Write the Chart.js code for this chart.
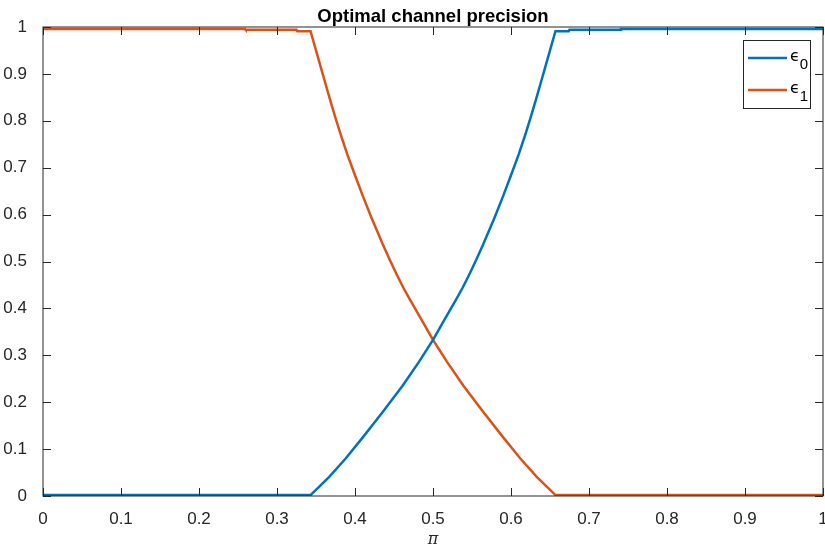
<!DOCTYPE html>
<html>
<head>
<meta charset="utf-8">
<script src="https://cdn.jsdelivr.net/npm/chart.js@4.4.0/dist/chart.umd.min.js"></script>
<style>
  body { margin: 0; background: #fff; }
  #wrap { width: 825px; height: 548px; }
</style>
</head>
<body>
<div id="wrap"><canvas id="precisionChart" width="825" height="548"></canvas></div>
<script>
// values
const eps0Pi  = [0, 0.343, 0.367, 0.388, 0.410, 0.435, 0.461, 0.482, 0.500, 0.512, 0.529, 0.538, 0.547, 0.555, 0.564, 0.579, 0.590, 0.600, 0.610, 0.619, 0.625, 0.632, 0.638, 0.644, 0.650, 0.657, 0.674, 0.675, 0.740, 0.741, 1];
const eps0Val = [0.002, 0.002, 0.041, 0.080, 0.125, 0.178, 0.235, 0.286, 0.333, 0.368, 0.417, 0.444, 0.474, 0.502, 0.535, 0.594, 0.640, 0.684, 0.729, 0.774, 0.806, 0.845, 0.880, 0.915, 0.950, 0.991, 0.991, 0.994, 0.994, 0.996, 0.996];

const eps1Pi  = [0, 0.259, 0.260, 0.325, 0.326, 0.343, 0.350, 0.356, 0.362, 0.368, 0.375, 0.381, 0.390, 0.400, 0.410, 0.421, 0.436, 0.445, 0.453, 0.462, 0.471, 0.488, 0.500, 0.518, 0.539, 0.565, 0.590, 0.612, 0.633, 0.657, 1];
const eps1Val = [0.996, 0.996, 0.994, 0.994, 0.991, 0.991, 0.950, 0.915, 0.880, 0.845, 0.806, 0.774, 0.729, 0.684, 0.640, 0.594, 0.535, 0.502, 0.474, 0.444, 0.417, 0.368, 0.333, 0.286, 0.235, 0.178, 0.125, 0.080, 0.041, 0.002, 0.002];

const seriesSymbol = ['ϵ', 'ϵ'];
const seriesSub = ['0', '1'];
const seriesColors = ['#0072BD', '#D95319'];

const chartTitle = 'Optimal channel precision';
const xTitle = 'π';

function toPoints(xs, ys) {
  return xs.map((v, i) => ({ x: v, y: ys[i] }));
}

// title over the plot box, box with inward ticks on all sides, legend top right
const matlabAxes = {
  id: 'matlabAxes',
  afterDatasetsDraw(chart) {
    const { ctx, chartArea: a, scales: { x, y } } = chart;
    ctx.save();

    ctx.fillStyle = '#000';
    ctx.font = 'bold 18.5px "Liberation Sans", Arial, sans-serif';
    ctx.textAlign = 'center';
    ctx.textBaseline = 'alphabetic';
    ctx.fillText(chartTitle, (a.left + a.right) / 2, a.top - 5.5);
    ctx.textAlign = 'left';

    ctx.strokeStyle = '#262626';
    ctx.lineWidth = 1;
    ctx.beginPath();
    x.ticks.forEach(t => {
      const px = Math.round(x.getPixelForValue(t.value)) + 0.5;
      ctx.moveTo(px, a.bottom); ctx.lineTo(px, a.bottom - 8);
      ctx.moveTo(px, a.top); ctx.lineTo(px, a.top + 8);
    });
    y.ticks.forEach(t => {
      const py = Math.round(y.getPixelForValue(t.value)) + 0.5;
      ctx.moveTo(a.left, py); ctx.lineTo(a.left + 8, py);
      ctx.moveTo(a.right, py); ctx.lineTo(a.right - 8, py);
    });
    ctx.stroke();
    ctx.strokeRect(a.left, a.top, a.right - a.left, a.bottom - a.top);

    const bx = a.right - 80, by = a.top + 13, bw = 67, bh = 68;
    ctx.fillStyle = '#fff';
    ctx.fillRect(bx, by, bw, bh);
    ctx.strokeRect(bx + 0.5, by + 0.5, bw, bh);
    chart.data.datasets.forEach((ds, i) => {
      const ly = by + 18 + i * 32;
      ctx.strokeStyle = ds.borderColor;
      ctx.lineWidth = 2.5;
      ctx.beginPath();
      ctx.moveTo(bx + 5, ly);
      ctx.lineTo(bx + 44, ly);
      ctx.stroke();
      ctx.fillStyle = '#000';
      ctx.font = '16px "DejaVu Sans", sans-serif';
      ctx.fillText(seriesSymbol[i], bx + 47, ly + 3);
      const w = ctx.measureText(seriesSymbol[i]).width;
      ctx.font = '15px "Liberation Sans", Arial, sans-serif';
      ctx.fillText(seriesSub[i], bx + 47 + w, ly + 11);
    });
    ctx.restore();
  }
};

const tickFont = { family: '"Liberation Sans", Arial, Helvetica, sans-serif', size: 17 };
const tickText = v => String(Number(v.toFixed(1)));

new Chart(document.getElementById('precisionChart'), {
  type: 'line',
  data: {
    datasets: [
      {
        label: seriesSymbol[0] + seriesSub[0],
        data: toPoints(eps0Pi, eps0Val),
        borderColor: seriesColors[0],
        backgroundColor: seriesColors[0],
        borderWidth: 2.5,
        pointRadius: 0,
        tension: 0
      },
      {
        label: seriesSymbol[1] + seriesSub[1],
        data: toPoints(eps1Pi, eps1Val),
        borderColor: seriesColors[1],
        backgroundColor: seriesColors[1],
        borderWidth: 2.5,
        pointRadius: 0,
        tension: 0
      }
    ]
  },
  options: {
    responsive: false,
    animation: false,
    layout: { padding: { left: 0, right: 2, top: 27, bottom: 0 } },
    plugins: {
      legend: { display: false },
      tooltip: { enabled: false },
      title: { display: false }
    },
    scales: {
      x: {
        type: 'linear',
        min: 0,
        max: 1,
        grid: { display: false },
        border: { display: false },
        ticks: { stepSize: 0.1, color: '#262626', font: tickFont, padding: 5, maxRotation: 0, callback: tickText },
        title: {
          display: true,
          text: xTitle,
          color: '#262626',
          font: { family: '"DejaVu Serif", serif', size: 16, style: 'italic', lineHeight: 1 },
          padding: { top: 0, bottom: 0 }
        },
        afterFit(scale) {
          scale.height = 52;
          scale.paddingLeft = 0;
          scale.paddingRight = 0;
        }
      },
      y: {
        min: 0,
        max: 1,
        grid: { display: false },
        border: { display: false },
        ticks: { stepSize: 0.1, color: '#262626', font: tickFont, padding: 8, callback: tickText },
        afterFit(scale) {
          scale.width = 43;
          scale.paddingTop = 0;
          scale.paddingBottom = 0;
        }
      }
    }
  },
  plugins: [matlabAxes]
});
</script>
</body>
</html>
